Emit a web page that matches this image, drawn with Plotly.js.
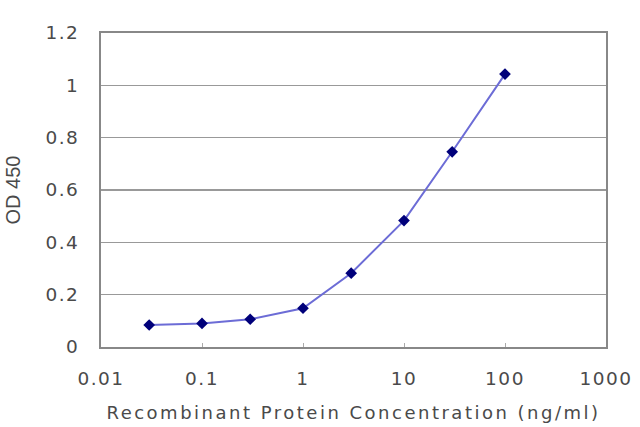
<!DOCTYPE html>
<html>
<head>
<meta charset="utf-8">
<script src="https://cdn.plot.ly/plotly-3.0.1.min.js"></script>
<style>
html,body{margin:0;padding:0;background:#fff;}
#chart{width:640px;height:427px;}
.xtick text, .ytick text{letter-spacing:1.5px;}
.g-xtitle text{letter-spacing:2.5px;}
</style>
</head>
<body>
<div id="chart"></div>
<script>
const concentrations = [0.03, 0.1, 0.3, 1, 3, 10, 30, 100];
const od450 = [0.084, 0.090, 0.106, 0.148, 0.282, 0.483, 0.746, 1.043];
const xTickVals = [0.01, 0.1, 1, 10, 100, 1000];
const xTickText = ["0.01", "0.1", "1", "10", "100", "1000"];
const yTickVals = [0, 0.2, 0.4, 0.6, 0.8, 1, 1.2];
const yTickText = ["0", "0.2", "0.4", "0.6", "0.8", "1", "1.2"];

const trace = {
  x: concentrations,
  y: od450,
  type: 'scatter',
  mode: 'lines+markers',
  line: {color: '#6c6cd6', width: 2},
  marker: {symbol: 'diamond', size: 9, color: '#00007a'},
  cliponaxis: false
};

const tickFont = {family: 'DejaVu Sans, sans-serif', color: '#4a4a4a', size: 18.5};

const layout = {
  width: 640, height: 427,
  margin: {l: 101, r: 34, t: 33, b: 80},
  paper_bgcolor: '#fff',
  plot_bgcolor: '#fff',
  showlegend: false,
  font: tickFont,
  xaxis: {
    type: 'log',
    range: [-2, 3],
    tickvals: xTickVals,
    ticktext: xTickText,
    showgrid: false,
    zeroline: false,
    showline: true,
    linecolor: '#888',
    linewidth: 2,
    mirror: true,
    ticks: 'inside',
    ticklen: 4,
    tickcolor: '#aaa',
    ticklabelstandoff: 14,
    tickfont: tickFont,
    title: {text: 'Recombinant Protein Concentration (ng/ml)', font: {family: 'DejaVu Sans, sans-serif', color: '#4a4a4a', size: 18}, standoff: 18}
  },
  yaxis: {
    range: [0, 1.2],
    tickvals: yTickVals,
    ticktext: yTickText,
    showgrid: true,
    gridcolor: '#999',
    gridwidth: 1.5,
    zeroline: false,
    showline: true,
    linecolor: '#888',
    linewidth: 2,
    mirror: true,
    ticks: '',
    ticklabelstandoff: 16,
    tickfont: tickFont,
    title: {text: 'OD 450', font: {family: 'Liberation Sans, Arial, sans-serif', color: '#4a4a4a', size: 20}, standoff: 19}
  }
};

Plotly.newPlot('chart', [trace], layout, {staticPlot: true, displayModeBar: false});
</script>
</body>
</html>
